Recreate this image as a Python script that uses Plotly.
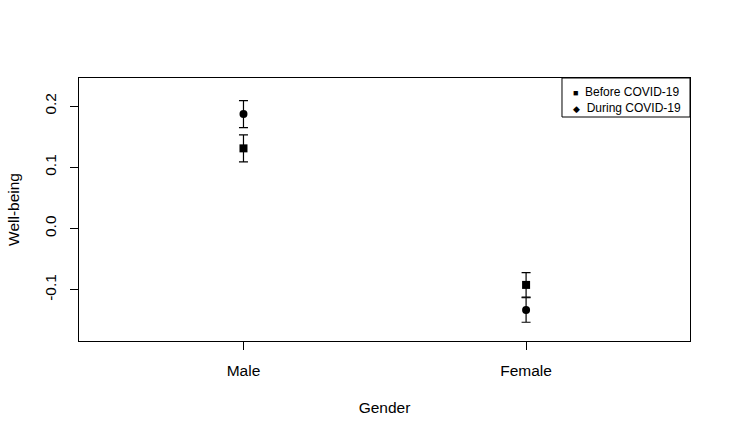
import plotly.graph_objects as go

# group means and standard errors
gender = ["Male", "Female"]
before_mean = [0.131, -0.092]
before_se = [0.022, 0.020]
during_mean = [0.187, -0.133]
during_se = [0.022, 0.020]
y_ticks = [-0.1, 0.0, 0.1, 0.2]
y_tick_labels = ["-0.1", "0.0", "0.1", "0.2"]
legend_labels = ["Before COVID-19", "During COVID-19"]
legend_glyphs = ["\u25A0", "\u25C6"]

font = "Liberation Sans, Arial, sans-serif"

fig = go.Figure()
fig.add_trace(go.Scatter(
    x=gender, y=before_mean, mode="markers", name=legend_labels[0],
    marker=dict(symbol="square", size=8, color="black"),
    error_y=dict(type="data", array=before_se, color="black", thickness=1.2, width=4.5)))
fig.add_trace(go.Scatter(
    x=gender, y=during_mean, mode="markers", name=legend_labels[1],
    marker=dict(symbol="circle", size=8, color="black"),
    error_y=dict(type="data", array=during_se, color="black", thickness=1.2, width=4.5)))

# R-style compact legend box in the top right corner (one text block, no overlaps)
fig.add_shape(type="rect", xref="paper", yref="paper",
              x0=0.7905, x1=1, y0=0.8517, y1=1,
              line=dict(color="black", width=1), fillcolor="white")
legend_text = "<br>".join(
    "<span style='font-size:9px'>%s</span>  %s" % (g, lab)
    for g, lab in zip(legend_glyphs, legend_labels))
fig.add_annotation(xref="paper", yref="paper", x=0.8075, y=0.9163,
                   text=legend_text, showarrow=False, align="left",
                   xanchor="left", yanchor="middle", borderpad=0,
                   font=dict(size=12, color="black"))

fig.update_layout(
    width=731, height=439,
    margin=dict(l=79, r=41, t=78, b=98),
    plot_bgcolor="white", paper_bgcolor="white",
    font=dict(family=font, size=15.5, color="black"),
    showlegend=False,
)
fig.update_xaxes(
    range=[-0.582, 1.58], showline=True, mirror=True, linecolor="black", linewidth=1,
    ticks="outside", ticklen=8, tickcolor="black", showgrid=False, zeroline=False,
    tickfont=dict(size=15.5), ticklabelstandoff=7,
    title=dict(text="Gender", standoff=24, font=dict(size=15.5)))
fig.update_yaxes(
    range=[-0.1836, 0.2459], tickvals=y_ticks, ticktext=y_tick_labels, tickangle=-90,
    showline=True, mirror=True, linecolor="black", linewidth=1,
    ticks="outside", ticklen=8, tickcolor="black", showgrid=False, zeroline=False,
    tickfont=dict(size=15.5), ticklabelstandoff=8,
    title=dict(text="Well-being", standoff=18, font=dict(size=15.5)))

fig.write_html("out.html", config={"displayModeBar": False},
               post_script="document.body.style.margin='0';")
